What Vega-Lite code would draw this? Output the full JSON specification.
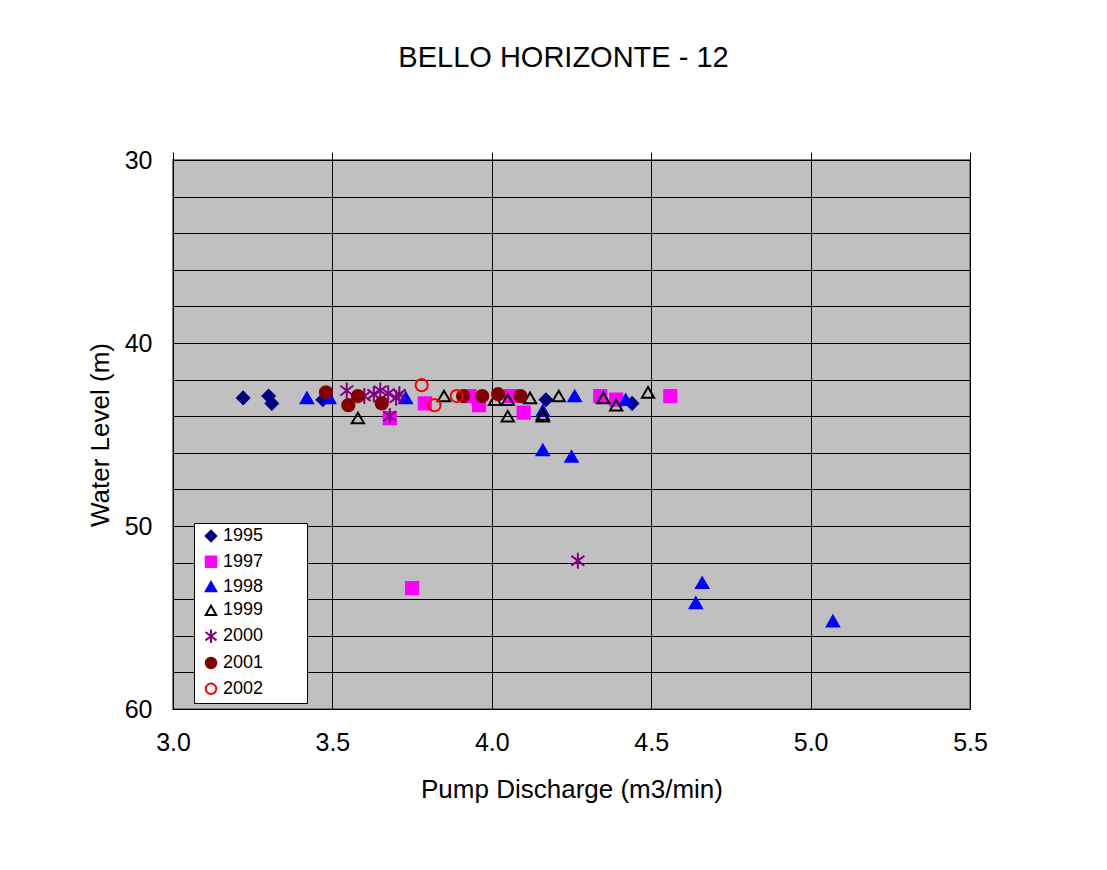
{
  "$schema": "https://vega.github.io/schema/vega-lite/v6.json",
  "width": 797,
  "height": 549,
  "autosize": {"type": "none"},
  "padding": {"left": 173, "top": 160, "right": 137, "bottom": 161},
  "background": "white",
  "title": {
    "text": "BELLO HORIZONTE - 12",
    "font": "Liberation Sans",
    "fontSize": 29,
    "fontWeight": "normal",
    "color": "#000000",
    "anchor": "middle",
    "frame": "group",
    "baseline": "alphabetic",
    "dx": -8,
    "offset": 52
  },
  "config": {
    "font": "Liberation Sans",
    "view": {"stroke": "#808080", "strokeWidth": 2, "fill": "#C0C0C0"},
    "axis": {"labelColor": "#000000", "titleColor": "#000000"}
  },
  "data": {
    "values": [
      {"year": "1995", "q": 3.22, "level": 43.0},
      {"year": "1995", "q": 3.30, "level": 42.9},
      {"year": "1995", "q": 3.31, "level": 43.3},
      {"year": "1995", "q": 3.47, "level": 43.1},
      {"year": "1995", "q": 4.17, "level": 43.1},
      {"year": "1995", "q": 4.44, "level": 43.3},
      {"year": "1997", "q": 3.68, "level": 44.1},
      {"year": "1997", "q": 3.79, "level": 43.3},
      {"year": "1997", "q": 3.93, "level": 42.9},
      {"year": "1997", "q": 3.96, "level": 43.4},
      {"year": "1997", "q": 4.06, "level": 42.9},
      {"year": "1997", "q": 4.10, "level": 43.8},
      {"year": "1997", "q": 4.34, "level": 42.9},
      {"year": "1997", "q": 4.39, "level": 43.1},
      {"year": "1997", "q": 4.56, "level": 42.9},
      {"year": "1997", "q": 3.75, "level": 53.4},
      {"year": "1998", "q": 3.42, "level": 43.0},
      {"year": "1998", "q": 3.49, "level": 43.0},
      {"year": "1998", "q": 3.73, "level": 43.0},
      {"year": "1998", "q": 4.16, "level": 43.7},
      {"year": "1998", "q": 4.16, "level": 45.85},
      {"year": "1998", "q": 4.25, "level": 46.2},
      {"year": "1998", "q": 4.26, "level": 42.9},
      {"year": "1998", "q": 4.42, "level": 43.1},
      {"year": "1998", "q": 4.64, "level": 54.2},
      {"year": "1998", "q": 4.66, "level": 53.1},
      {"year": "1998", "q": 5.07, "level": 55.2},
      {"year": "1999", "q": 3.58, "level": 44.1},
      {"year": "1999", "q": 3.85, "level": 42.9},
      {"year": "1999", "q": 4.01, "level": 43.1},
      {"year": "1999", "q": 4.05, "level": 43.1},
      {"year": "1999", "q": 4.05, "level": 44.0},
      {"year": "1999", "q": 4.12, "level": 43.0},
      {"year": "1999", "q": 4.16, "level": 44.0},
      {"year": "1999", "q": 4.16, "level": 43.9},
      {"year": "1999", "q": 4.21, "level": 42.9},
      {"year": "1999", "q": 4.35, "level": 43.0},
      {"year": "1999", "q": 4.39, "level": 43.4},
      {"year": "1999", "q": 4.49, "level": 42.7},
      {"year": "2000", "q": 3.545, "level": 42.6},
      {"year": "2000", "q": 3.60, "level": 42.9},
      {"year": "2000", "q": 3.63, "level": 42.8},
      {"year": "2000", "q": 3.65, "level": 42.6},
      {"year": "2000", "q": 3.675, "level": 42.75},
      {"year": "2000", "q": 3.70, "level": 43.0},
      {"year": "2000", "q": 3.71, "level": 42.8},
      {"year": "2000", "q": 3.68, "level": 44.0},
      {"year": "2000", "q": 4.27, "level": 51.9},
      {"year": "2001", "q": 3.48, "level": 42.7},
      {"year": "2001", "q": 3.55, "level": 43.4},
      {"year": "2001", "q": 3.58, "level": 42.9},
      {"year": "2001", "q": 3.655, "level": 43.3},
      {"year": "2001", "q": 3.91, "level": 42.9},
      {"year": "2001", "q": 3.97, "level": 42.9},
      {"year": "2001", "q": 4.02, "level": 42.8},
      {"year": "2001", "q": 4.09, "level": 42.9},
      {"year": "2002", "q": 3.78, "level": 42.3},
      {"year": "2002", "q": 3.82, "level": 43.4},
      {"year": "2002", "q": 3.89, "level": 42.9}
    ]
  },
  "resolve": {"axis": {"x": "independent", "y": "independent"}},
  "layer": [
    {
      "mark": {"type": "point", "filled": true, "strokeWidth": 2, "size": 150, "opacity": 1},
      "encoding": {
        "x": {
          "field": "q", "type": "quantitative",
          "scale": {"domain": [3.0, 5.5], "nice": false, "zero": false},
          "axis": {
            "orient": "bottom",
            "title": "Pump Discharge (m3/min)",
            "values": [3.0, 3.5, 4.0, 4.5, 5.0, 5.5],
            "format": ".1f",
            "labelFlush": false,
            "grid": true, "gridColor": "#000000", "gridWidth": 1, "gridOpacity": 1,
            "ticks": false, "domain": false,
            "labelFontSize": 25, "labelPadding": 21, "labelColor": "#000000",
            "titleFontSize": 26, "titleFontWeight": "normal", "titlePadding": 21, "titleColor": "#000000"
          }
        },
        "y": {
          "field": "level", "type": "quantitative",
          "scale": {"domain": [30, 60], "reverse": true, "nice": false, "zero": false},
          "axis": {
            "title": "Water Level (m)",
            "values": [30, 32, 34, 36, 38, 40, 42, 44, 46, 48, 50, 52, 54, 56, 58, 60],
            "labelExpr": "datum.value % 10 === 0 ? datum.label : ''",
            "labelFlush": false,
            "grid": true, "gridColor": "#000000", "gridWidth": 1, "gridOpacity": 1,
            "ticks": false, "domain": true, "domainColor": "#000000", "domainWidth": 1,
            "labelFontSize": 25, "labelPadding": 21, "labelColor": "#000000",
            "titleFontSize": 26, "titleFontWeight": "normal", "titlePadding": 11, "titleColor": "#000000"
          }
        },
        "shape": {
          "field": "year", "type": "nominal",
          "scale": {
            "domain": ["1995", "1997", "1998", "1999", "2000", "2001", "2002"],
            "range": ["diamond", "square", "triangle-up", "triangle-up", "M0,-1.3L0,1.3M-1.05,-0.8L1.05,0.8M-1.05,0.8L1.05,-0.8", "circle", "circle"]
          },
          "legend": {
            "title": null,
            "orient": "none", "legendX": 21, "legendY": 363,
            "fillColor": "#FFFFFF", "strokeColor": "#000000", "padding": 4,
            "labelFontSize": 18, "labelColor": "#000000", "labelOffset": 3,
            "symbolSize": 110, "symbolStrokeWidth": 2, "symbolOffset": 4,
            "rowPadding": 5.8,
            "labelExpr": "datum.label + '\u2800\u2800\u2800'"
          }
        },
        "fill": {
          "field": "year", "type": "nominal",
          "scale": {
            "domain": ["1995", "1997", "1998", "1999", "2000", "2001", "2002"],
            "range": ["#000080", "#FF00FF", "#0000FF", "transparent", "transparent", "#800000", "transparent"]
          },
          "legend": {
            "title": null,
            "orient": "none", "legendX": 21, "legendY": 363,
            "fillColor": "#FFFFFF", "strokeColor": "#000000", "padding": 4,
            "labelFontSize": 18, "labelColor": "#000000", "labelOffset": 3,
            "symbolSize": 110, "symbolStrokeWidth": 2, "symbolOffset": 4,
            "rowPadding": 5.8,
            "labelExpr": "datum.label + '\u2800\u2800\u2800'"
          }
        },
        "stroke": {
          "field": "year", "type": "nominal",
          "scale": {
            "domain": ["1995", "1997", "1998", "1999", "2000", "2001", "2002"],
            "range": ["#000080", "#FF00FF", "#0000FF", "#000000", "#800080", "#800000", "#FF0000"]
          },
          "legend": {
            "title": null,
            "orient": "none", "legendX": 21, "legendY": 363,
            "fillColor": "#FFFFFF", "strokeColor": "#000000", "padding": 4,
            "labelFontSize": 18, "labelColor": "#000000", "labelOffset": 3,
            "symbolSize": 110, "symbolStrokeWidth": 2, "symbolOffset": 4,
            "rowPadding": 5.8,
            "labelExpr": "datum.label + '\u2800\u2800\u2800'"
          }
        }
      }
    },
    {
      "mark": {"type": "point", "opacity": 0},
      "encoding": {
        "x": {
          "field": "q", "type": "quantitative",
          "axis": {
            "orient": "top", "title": null, "labels": false,
            "values": [3.0, 3.5, 4.0, 4.5, 5.0, 5.5],
            "grid": false, "ticks": true, "tickSize": 8, "tickColor": "#000000", "tickWidth": 1,
            "domain": true, "domainColor": "#000000", "domainWidth": 1
          }
        },
        "y": {"field": "level", "type": "quantitative", "axis": null}
      }
    }
  ]
}
